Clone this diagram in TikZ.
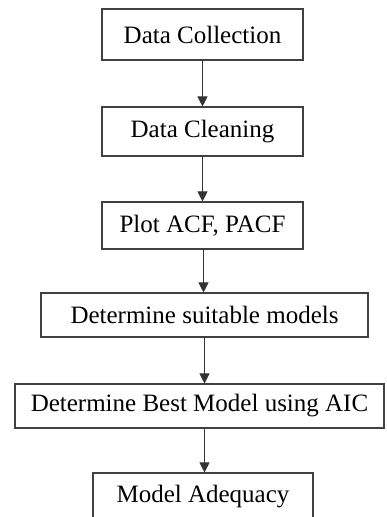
\documentclass[tikz,border=0pt]{standalone}
\usepackage{fontspec}
\setmainfont{Liberation Serif}
\usepackage{tikz}
\usetikzlibrary{arrows.meta}

\begin{document}
\begin{tikzpicture}[x=1pt,y=-1pt,>={Triangle[length=10pt,width=10pt]},
  font=\fontsize{25}{29}\selectfont,
  stagebox/.style={draw=black!75,line width=1.1pt,inner sep=0pt,minimum height=#1},
  flow/.style={->,draw=black!80,line width=0.9pt}]
\useasboundingbox (0,0) rectangle (387,517);
\node[stagebox=51pt,minimum width=201pt] (collect) at (202.5,34.5) {Data Collection};
\node[stagebox=49pt,minimum width=201pt] (clean) at (202.5,131.5) {Data Cleaning};
\node[stagebox=47pt,minimum width=201pt] (acf) at (202.5,225.5) {Plot ACF, PACF};
\node[stagebox=44pt,minimum width=327pt] (models) at (204.5,315) {Determine suitable models};
\node[stagebox=44pt,minimum width=369pt] (best) at (199.5,406) {Determine Best Model using AIC};
\node[stagebox=48pt,minimum width=220pt] (adequacy) at (203,497) {Model Adequacy};
\draw[flow] (collect.south) -- (collect.south |- clean.north);
\draw[flow] (clean.south) -- (clean.south |- acf.north);
\draw[flow] ([xshift=1pt]acf.south) -- ([xshift=1pt]acf.south |- models.north);
\draw[flow] ([xshift=2pt]acf.south |- models.south) -- ([xshift=2pt]acf.south |- best.north);
\draw[flow] ([xshift=2pt]acf.south |- best.south) -- ([xshift=2pt]acf.south |- adequacy.north);
\end{tikzpicture}
\end{document}
